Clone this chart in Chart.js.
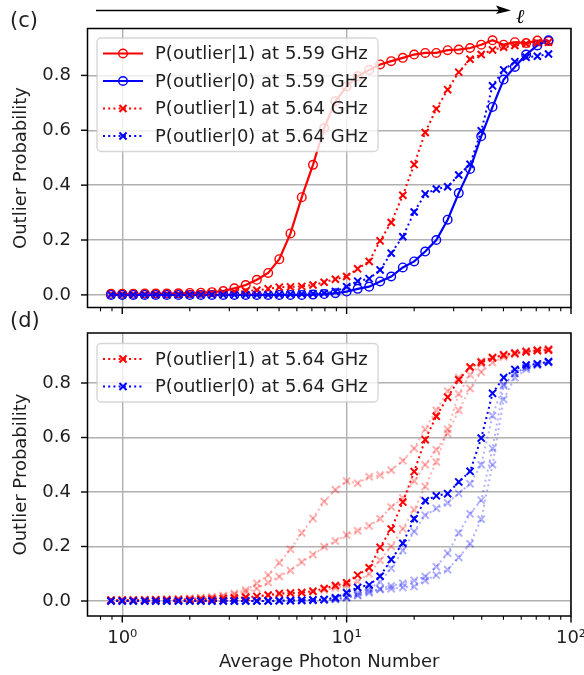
<!DOCTYPE html>
<html>
<head>
<meta charset="utf-8">
<script src="https://cdn.jsdelivr.net/npm/chart.js@4.4.1/dist/chart.umd.min.js"></script>
<style>
  html, body { margin: 0; padding: 0; background: #fff; }
  #wrap { position: relative; width: 584px; height: 675px; overflow: hidden; }
  canvas { position: absolute; left: 0; }
  #cvC { top: 0; }
  #cvD { top: 296px; }
</style>
</head>
<body>
<div id="wrap">
  <canvas id="cvC" width="584" height="320"></canvas>
  <canvas id="cvD" width="584" height="379"></canvas>
</div>
<script>
/* photon number sweep (log spaced) */
const photonNumber = [0.891, 1.00, 1.12, 1.26, 1.41, 1.58, 1.78, 2.00, 2.24, 2.51,
                      2.82, 3.16, 3.55, 3.98, 4.47, 5.01, 5.62, 6.31, 7.08, 7.94,
                      8.91, 10.0, 11.2, 12.6, 14.1, 15.8, 17.8, 20.0, 22.4, 25.1,
                      28.2, 31.6, 35.5, 39.8, 44.7, 50.1, 56.2, 63.1, 70.8, 79.4];

/* axis ticks */
const majorX = [1, 10, 100];
const tickLabelsX = ['10\u2070', '10\u00b9', '10\u00b2'];
const minorX = [0.8, 0.9, 2, 3, 4, 5, 6, 7, 8, 9, 20, 30, 40, 50, 60, 70, 80, 90];
const ticksY = [0, 0.2, 0.4, 0.6, 0.8];

/* outlier probabilities */
const p1At559 = [0.004, 0.004, 0.004, 0.005, 0.005, 0.005, 0.006, 0.007, 0.008, 0.010,
                 0.014, 0.024, 0.036, 0.055, 0.080, 0.130, 0.224, 0.356, 0.474, 0.608,
                 0.706, 0.760, 0.797, 0.820, 0.840, 0.852, 0.864, 0.876, 0.882, 0.882,
                 0.892, 0.894, 0.900, 0.912, 0.928, 0.912, 0.921, 0.918, 0.927, 0.925];
const p0At559 = [0, 0, 0, 0, 0, 0, 0, 0, 0, 0,
                 0, 0, 0, 0, 0, 0, 0, 0, 0.001, 0.003,
                 0.006, 0.012, 0.022, 0.030, 0.049, 0.067, 0.100, 0.122, 0.158, 0.200,
                 0.274, 0.371, 0.459, 0.578, 0.685, 0.785, 0.831, 0.876, 0.909, 0.928];
const p1At564 = [0.003, 0.003, 0.003, 0.003, 0.004, 0.004, 0.004, 0.005, 0.006, 0.007,
                 0.009, 0.011, 0.014, 0.017, 0.022, 0.028, 0.029, 0.031, 0.036, 0.046,
                 0.057, 0.067, 0.095, 0.122, 0.197, 0.264, 0.363, 0.475, 0.592, 0.678,
                 0.748, 0.812, 0.859, 0.876, 0.893, 0.903, 0.909, 0.915, 0.919, 0.921];
const p0At564 = [0, 0, 0, 0, 0, 0, 0, 0, 0, 0,
                 0, 0, 0, 0, 0, 0.001, 0.002, 0.003, 0.004, 0.006,
                 0.012, 0.030, 0.050, 0.059, 0.091, 0.152, 0.212, 0.302, 0.368, 0.386,
                 0.394, 0.437, 0.476, 0.598, 0.762, 0.820, 0.850, 0.866, 0.870, 0.878];

/* other runs at 5.64 GHz, drawn faded behind */
const p1RunA = [0.004, 0.004, 0.005, 0.005, 0.006, 0.007, 0.008, 0.010, 0.012, 0.015,
                0.020, 0.028, 0.040, 0.065, 0.095, 0.140, 0.190, 0.250, 0.303, 0.365,
                0.408, 0.440, 0.432, 0.456, 0.462, 0.480, 0.515, 0.560, 0.630, 0.700,
                0.770, 0.820, 0.855, 0.880, 0.895, 0.905, 0.912, 0.918, 0.922, 0.925];
const p1RunB = [0.004, 0.004, 0.004, 0.005, 0.005, 0.006, 0.007, 0.008, 0.010, 0.013,
                0.017, 0.023, 0.032, 0.046, 0.068, 0.090, 0.112, 0.143, 0.170, 0.199,
                0.220, 0.242, 0.258, 0.275, 0.302, 0.345, 0.378, 0.440, 0.500, 0.555,
                0.615, 0.700, 0.780, 0.840, 0.875, 0.895, 0.905, 0.915, 0.920, 0.925];
const p1RunC = [0.003, 0.003, 0.003, 0.003, 0.003, 0.004, 0.004, 0.005, 0.005, 0.006,
                0.008, 0.010, 0.013, 0.016, 0.020, 0.024, 0.027, 0.030, 0.034, 0.040,
                0.048, 0.058, 0.072, 0.100, 0.150, 0.200, 0.265, 0.335, 0.420, 0.510,
                0.630, 0.760, 0.830, 0.870, 0.890, 0.900, 0.908, 0.914, 0.918, 0.920];
const p0RunA = [0, 0, 0, 0, 0, 0, 0, 0, 0, 0,
                0, 0, 0, 0, 0, 0.001, 0.001, 0.002, 0.003, 0.005,
                0.008, 0.015, 0.030, 0.045, 0.070, 0.120, 0.185, 0.255, 0.315, 0.340,
                0.360, 0.395, 0.430, 0.500, 0.680, 0.795, 0.835, 0.858, 0.868, 0.876];
const p0RunB = [0, 0, 0, 0, 0, 0, 0, 0, 0, 0,
                0, 0, 0, 0, 0, 0.001, 0.001, 0.002, 0.003, 0.004,
                0.006, 0.012, 0.022, 0.035, 0.042, 0.045, 0.050, 0.053, 0.075, 0.095,
                0.115, 0.160, 0.210, 0.300, 0.500, 0.740, 0.820, 0.850, 0.865, 0.875];
const p0RunC = [0, 0, 0, 0, 0, 0, 0, 0, 0, 0,
                0, 0, 0, 0, 0, 0.001, 0.002, 0.002, 0.003, 0.004,
                0.006, 0.012, 0.020, 0.030, 0.045, 0.055, 0.065, 0.075, 0.090, 0.126,
                0.175, 0.250, 0.320, 0.370, 0.560, 0.790, 0.835, 0.858, 0.870, 0.880];

const RED = '#ff0000', BLUE = '#0000ff';
const RED_F = 'rgba(255,0,0,0.3)', BLUE_F = 'rgba(0,0,255,0.3)';
const FONT = '"DejaVu Sans", sans-serif';
const INK = '#1e1e1e';

Chart.defaults.font.family = FONT;
Chart.defaults.font.size = 18;
Chart.defaults.color = INK;
Chart.defaults.animation = false;

function pts(ys) { return photonNumber.map(function (x, i) { return { x: x, y: ys[i] }; }); }

function solidRing(label, ys, col, order) {
    return { label: label, data: pts(ys), borderColor: col, borderWidth: 2.2,
             pointStyle: 'circle', pointRadius: 4.3, pointBorderWidth: 1.4,
             pointBorderColor: col, pointBackgroundColor: 'rgba(0,0,0,0)',
             fill: false, tension: 0, order: order };
}
function dottedCross(label, ys, col, order) {
    return { label: label, data: pts(ys), borderColor: col, borderWidth: 2,
             borderDash: [2, 3.2], pointStyle: 'crossRot', pointRadius: 5,
             pointBorderWidth: 2, pointBorderColor: col, pointBackgroundColor: col,
             fill: false, tension: 0, order: order };
}

/* ── frame, minor ticks, legend box, panel tag ───────────── */
function line(ctx, x1, y1, x2, y2) { ctx.beginPath(); ctx.moveTo(x1, y1); ctx.lineTo(x2, y2); ctx.stroke(); }

function marker(ctx, style, x, y, r, w, col) {
    ctx.save();
    ctx.strokeStyle = col; ctx.lineWidth = w;
    ctx.beginPath();
    if (style === 'circle') {
        ctx.arc(x, y, r, 0, Math.PI * 2);
    } else {
        var d = r * Math.SQRT1_2;
        ctx.moveTo(x - d, y - d); ctx.lineTo(x + d, y + d);
        ctx.moveTo(x - d, y + d); ctx.lineTo(x + d, y - d);
    }
    ctx.stroke();
    ctx.restore();
}

const decor = {
    id: 'decor',
    afterDraw: function (chart, args, o) {
        var ctx = chart.ctx, a = chart.chartArea, sx = chart.scales.x, sy = chart.scales.y;
        ctx.save();
        ctx.strokeStyle = '#000';

        // box
        ctx.lineWidth = 1.5;
        ctx.strokeRect(a.left, a.top, a.right - a.left, a.bottom - a.top);

        // tick marks
        ctx.lineWidth = 1.4;
        ticksY.forEach(function (v) {
            var py = sy.getPixelForValue(v);
            line(ctx, a.left - 6.5, py, a.left, py);
        });
        majorX.forEach(function (v) {
            var px = sx.getPixelForValue(v);
            if (px <= a.right + 1) line(ctx, px, a.bottom, px, a.bottom + 6.5);
        });
        ctx.lineWidth = 1.1;
        minorX.forEach(function (v) {
            var px = sx.getPixelForValue(v);
            if (px >= a.left && px <= a.right) line(ctx, px, a.bottom, px, a.bottom + 3.8);
        });

        // legend
        var items = chart.data.datasets.filter(function (d) { return d.label; });
        var top = o.legendTop, left = 97, w = 281, rowH = 27.5;
        var h = 31 + (items.length - 1) * rowH;
        ctx.beginPath();
        ctx.roundRect(left, top, w, h, 4);
        ctx.fillStyle = 'rgba(255,255,255,0.8)';
        ctx.fill();
        ctx.strokeStyle = 'rgba(204,204,204,0.8)';
        ctx.lineWidth = 1.4;
        ctx.stroke();
        items.forEach(function (d, k) {
            var y = top + 15.5 + k * rowH;
            ctx.strokeStyle = d.borderColor;
            ctx.lineWidth = d.borderWidth;
            ctx.setLineDash(d.borderDash || []);
            line(ctx, 103, y, 143, y);
            ctx.setLineDash([]);
            marker(ctx, d.pointStyle, 123, y, d.pointRadius, d.pointBorderWidth, d.borderColor);
            ctx.fillStyle = INK;
            ctx.font = '18px ' + FONT;
            ctx.textBaseline = 'middle';
            ctx.textAlign = 'left';
            ctx.fillText(d.label, 155, y + 1);
        });

        // panel tag
        ctx.fillStyle = INK;
        ctx.font = '21px ' + FONT;
        ctx.textBaseline = 'middle';
        ctx.fillText(o.tag, 10, o.tagY);

        if (o.arrow) {
            ctx.strokeStyle = '#000';
            ctx.lineWidth = 1.6;
            line(ctx, 96, 10.5, 500, 10.5);
            ctx.fillStyle = '#000';
            ctx.beginPath();
            ctx.moveTo(511, 10.5); ctx.lineTo(496, 5.5); ctx.lineTo(499, 10.5); ctx.lineTo(496, 14);
            ctx.closePath(); ctx.fill();
            ctx.font = 'italic 20px "DejaVu Serif", serif';
            ctx.textBaseline = 'alphabetic';
            ctx.fillText('\u2113', 516, 23);
        }
        ctx.restore();
    }
};

function axes(ymin, ymax, xHeight, showXLabels) {
    return {
        x: {
            type: 'logarithmic', min: 0.7255, max: 100,
            afterBuildTicks: function (s) { s.ticks = majorX.map(function (v) { return { value: v, major: true }; }); },
            afterFit: function (s) { s.height = xHeight; s.paddingLeft = 0; s.paddingRight = 0; },
            grid: { color: '#b0b0b0', lineWidth: 1.4, drawTicks: false },
            border: { display: false },
            ticks: { display: showXLabels, autoSkip: false, maxRotation: 0, padding: 12,
                     font: { size: 18 }, callback: function (v, i) { return tickLabelsX[i]; } },
            title: { display: showXLabels, text: 'Average Photon Number', font: { size: 18 },
                     padding: { top: 0, bottom: 2 } }
        },
        y: {
            min: ymin, max: ymax,
            afterBuildTicks: function (s) { s.ticks = ticksY.map(function (v) { return { value: v }; }); },
            afterFit: function (s) { s.width = 87.5; s.paddingTop = 0; s.paddingBottom = 0; },
            grid: { color: '#b0b0b0', lineWidth: 1.4, drawTicks: false },
            border: { display: false },
            ticks: { padding: 16.5, font: { size: 18 }, callback: function (v) { return v.toFixed(1); } },
            title: { display: true, text: 'Outlier Probability', font: { size: 18 },
                     padding: { top: 11, bottom: 0 } }
        }
    };
}

/* (c) both frequencies */
new Chart(document.getElementById('cvC'), {
    type: 'line',
    data: { datasets: [
        solidRing('P(outlier|1) at 5.59 GHz', p1At559, RED, 4),
        solidRing('P(outlier|0) at 5.59 GHz', p0At559, BLUE, 3),
        dottedCross('P(outlier|1) at 5.64 GHz', p1At564, RED, 2),
        dottedCross('P(outlier|0) at 5.64 GHz', p0At564, BLUE, 1)
    ]},
    options: {
        responsive: false,
        layout: { padding: { top: 28.5, right: 13, left: 0, bottom: 0 } },
        plugins: { legend: { display: false }, tooltip: { enabled: false },
                   decor: { tag: '(c)', tagY: 22, arrow: true, legendTop: 38 } },
        scales: axes(-0.046, 0.971, 12.5, false)
    },
    plugins: [decor]
});

/* (d) 5.64 GHz with the other runs faded */
new Chart(document.getElementById('cvD'), {
    type: 'line',
    data: { datasets: [
        dottedCross('P(outlier|1) at 5.64 GHz', p1At564, RED, 2),
        dottedCross('P(outlier|0) at 5.64 GHz', p0At564, BLUE, 1),
        dottedCross('', p1RunA, RED_F, 10),
        dottedCross('', p1RunB, RED_F, 10),
        dottedCross('', p1RunC, RED_F, 10),
        dottedCross('', p0RunA, BLUE_F, 9),
        dottedCross('', p0RunB, BLUE_F, 9),
        dottedCross('', p0RunC, BLUE_F, 9)
    ]},
    options: {
        responsive: false,
        layout: { padding: { top: 37, right: 13, left: 0, bottom: 0 } },
        plugins: { legend: { display: false }, tooltip: { enabled: false },
                   decor: { tag: '(d)', tagY: 26, arrow: false, legendTop: 47.5 } },
        scales: axes(-0.055, 0.9835, 59, true)
    },
    plugins: [decor]
});
</script>
</body>
</html>
